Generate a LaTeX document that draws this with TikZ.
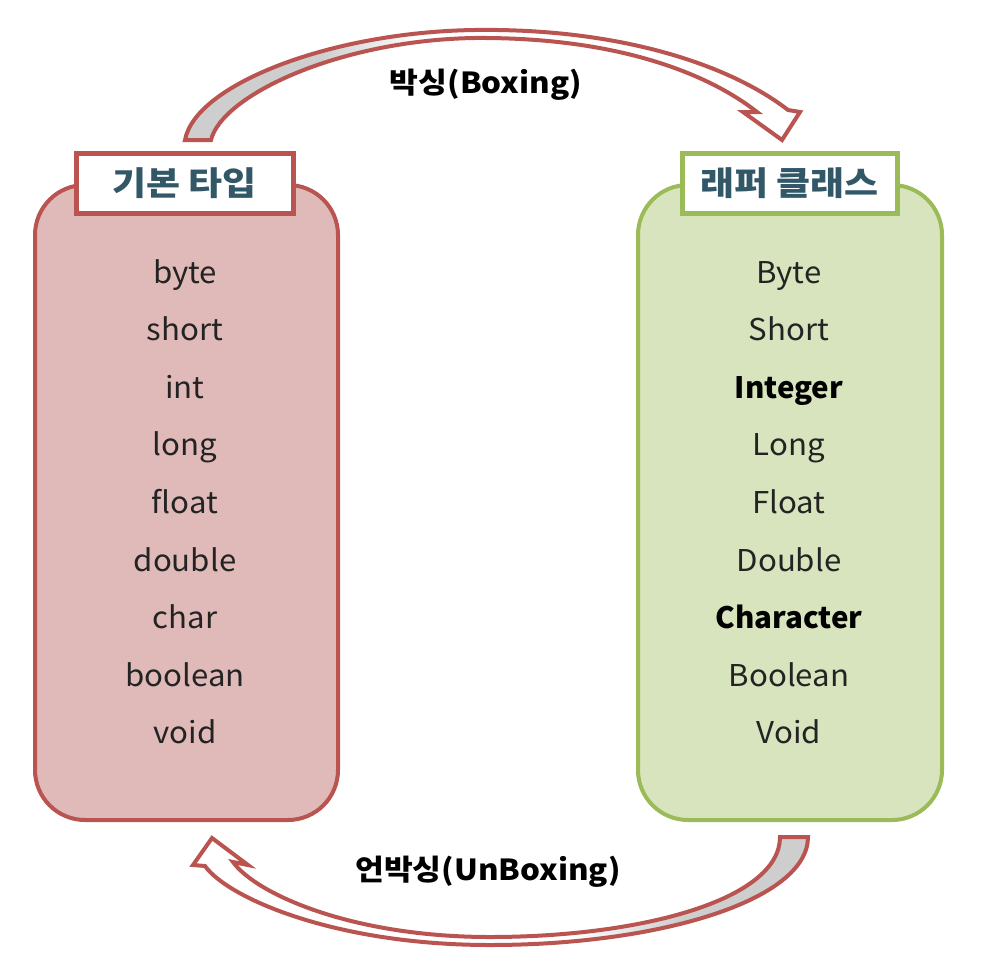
\documentclass[tikz,border=0pt]{standalone}
\usepackage{fontspec}
\setmainfont{Noto Sans CJK KR}
\newfontfamily\widefont[FakeStretch=1.04]{Noto Sans CJK KR}
\newfontfamily\labelfont[FakeStretch=1.08]{Noto Sans CJK KR}
\newfontfamily\titlefont[FakeStretch=1.12]{Noto Sans CJK KR}
\definecolor{redline}{RGB}{185,84,80}
\definecolor{redfill}{RGB}{223,186,185}
\definecolor{greenline}{RGB}{155,187,89}
\definecolor{greenfill}{RGB}{216,228,189}
\definecolor{titletext}{RGB}{50,88,104}
\definecolor{itemtext}{RGB}{35,35,35}
\definecolor{under}{RGB}{206,206,206}
\begin{document}
\begin{tikzpicture}[x=1pt,y=-1pt,
  box/.style={rounded corners=50pt, line width=4pt, minimum width=303pt, minimum height=635pt, inner sep=0pt},
  titlebox/.style={fill=white, line width=5pt, minimum height=60pt, inner sep=0pt, font=\titlefont\fontsize{33}{33}\selectfont\bfseries, text=titletext},
  item/.style={anchor=base, font=\widefont\fontsize{30}{30}\selectfont, text=itemtext},
  bolditem/.style={anchor=base, font=\fontsize{29.5}{29.5}\selectfont\bfseries, text=black},
  arrowline/.style={draw=redline, line width=4pt, line join=miter},
  arrowlabel/.style={font=\labelfont\fontsize{29}{29}\selectfont\bfseries, text=black}]
\useasboundingbox (0,0) rectangle (990,974);
\def\toparrow{(185,140) .. controls (195,85) and (330,32) .. (475,30) .. controls (620,28) and (730,65) .. (788,110) -- (800,112) -- (782,140) -- (743,112) -- (757,112) .. controls (710,75) and (620,37) .. (475,38) .. controls (340,40) and (222,95) .. (211,140) -- cycle}
\def\botarrow{(808,837) .. controls (808,900) and (660,945) .. (490,945) .. controls (335,945) and (228,898) .. (205,866) -- (193,865) -- (212,838) -- (248,865) -- (233,862) .. controls (255,893) and (350,937) .. (490,937) .. controls (640,937) and (780,900) .. (780,837) -- cycle}
% boxes
\node[box, draw=redline, fill=redfill] (prim) at (186.5,502.5) {};
\node[box, draw=greenline, fill=greenfill, minimum width=304pt] (wrap) at (790,502.5) {};
\node[titlebox, draw=redline, minimum width=217pt] (primtitle) at (184.5,183) {기본 타입};
\node[titlebox, draw=greenline, minimum width=215pt] (wraptitle) at (789.5,183) {래퍼 클래스};
% items
\foreach \t [count=\i] in {byte,short,int,long,float,double,char,boolean,void}
  \node[item] (p\i) at (185,{273+57.6*(\i-1)+10}) {\t};
\node[item] (w1) at (789,283) {Byte};
\node[item] (w2) at (789,340.6) {Short};
\node[bolditem] (w3) at (789,398.2) {Integer};
\node[item] (w4) at (789,455.8) {Long};
\node[item] (w5) at (789,513.4) {Float};
\node[item] (w6) at (789,571) {Double};
\node[bolditem] (w7) at (789,628.6) {Character};
\node[item] (w8) at (789,686.2) {Boolean};
\node[item] (w9) at (789,743.8) {Void};
% top arrow (boxing)
\fill[white] \toparrow;
\begin{scope}
  \clip \toparrow;
  \fill[under] (150,0) rectangle (320,160);
  \shade[left color=under, right color=white] (320,0) rectangle (420,160);
\end{scope}
\draw[arrowline] \toparrow;
% bottom arrow (unboxing)
\fill[white] \botarrow;
\begin{scope}
  \clip \botarrow;
  \fill[under] (680,800) rectangle (840,960);
  \shade[left color=white, right color=under] (570,800) rectangle (680,960);
\end{scope}
\draw[arrowline] \botarrow;
% labels
\node[arrowlabel] (boxing) at (486,85) {박싱(Boxing)};
\node[arrowlabel] (unboxing) at (488,872) {언박싱(UnBoxing)};
\end{tikzpicture}
\end{document}
